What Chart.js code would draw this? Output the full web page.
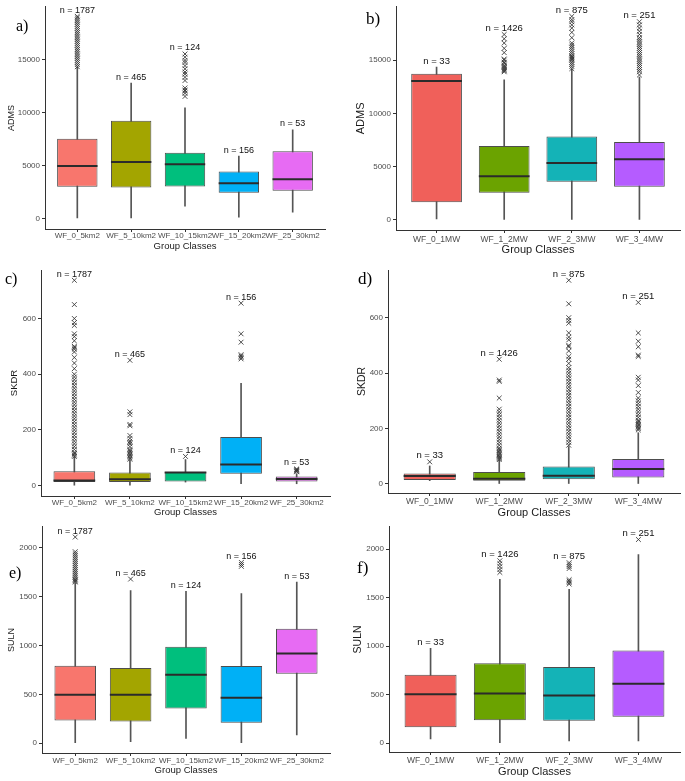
<!DOCTYPE html>
<html>
<head>
<meta charset="utf-8">
<script src="https://cdn.jsdelivr.net/npm/chart.js@4.4.1/dist/chart.umd.min.js"></script>
<style>
    body { margin: 0; background: #fff; }
    #fig { position: relative; width: 685px; height: 781px; overflow: hidden; }
    .panel { position: absolute; }
    .tag { position: absolute; font-family: 'Liberation Serif', 'Times New Roman', serif; font-size: 16px; line-height: 16px; color: #000; }
</style>
</head>
<body>
<div id="fig">
    <div class="panel" style="left:0;top:0;width:340px;height:260px"><canvas id="chartA"></canvas></div>
    <div class="panel" style="left:340px;top:0;width:345px;height:260px"><canvas id="chartB"></canvas></div>
    <div class="panel" style="left:0;top:260px;width:340px;height:260px"><canvas id="chartC"></canvas></div>
    <div class="panel" style="left:340px;top:260px;width:345px;height:260px"><canvas id="chartD"></canvas></div>
    <div class="panel" style="left:0;top:520px;width:340px;height:261px"><canvas id="chartE"></canvas></div>
    <div class="panel" style="left:340px;top:520px;width:345px;height:261px"><canvas id="chartF"></canvas></div>
    <div class="tag" style="left:16px;top:18px">a)</div>
    <div class="tag" style="left:366px;top:11px;font-size:17px">b)</div>
    <div class="tag" style="left:5px;top:271px">c)</div>
    <div class="tag" style="left:358px;top:271px;font-size:17px">d)</div>
    <div class="tag" style="left:9px;top:565px">e)</div>
    <div class="tag" style="left:357px;top:560px;font-size:17px">f)</div>
</div>
<script>
const areaClasses = ['WF_0_5km2', 'WF_5_10km2', 'WF_10_15km2', 'WF_15_20km2', 'WF_25_30km2'];
const powerClasses = ['WF_0_1MW', 'WF_1_2MW', 'WF_2_3MW', 'WF_3_4MW'];
const areaCounts = [1787, 465, 124, 156, 53];
const powerCounts = [33, 1426, 875, 251];
const areaColors = ['#F8766D', '#A3A500', '#00BF7D', '#00B0F6', '#E76BF3'];
const powerColors = ['#F0605A', '#6BA300', '#14B3B7', '#B55CFF'];

// a) ADMS by area class
const admsAreaLow = [0, 0, 1150, 120, 590];
const admsAreaQ1 = [2980, 2920, 3010, 2420, 2610];
const admsAreaMed = [4940, 5310, 5095, 3325, 3700];
const admsAreaQ3 = [7520, 9195, 6180, 4410, 6335];
const admsAreaHigh = [14250, 12760, 10435, 5870, 8360];
const admsAreaOut = [
    [14300, 14500, 14700, 14900, 15100, 15300, 15500, 15700, 15900, 16100, 16300, 16500, 16700, 16900, 17100, 17300, 17500, 17700, 17900, 18100, 18300, 18500, 18700, 18900, 19050],
    [],
    [11500, 11800, 12000, 12100, 12300, 13000, 13300, 13600, 13800, 14100, 14400, 14700, 14900, 15200, 15500],
    [],
    []
];
const admsTicks = [0, 5000, 10000, 15000];

// b) ADMS by power class
const admsPowerLow = [100, 0, 0, 0];
const admsPowerQ1 = [1650, 2545, 3570, 3105];
const admsPowerMed = [13045, 4100, 5340, 5685];
const admsPowerQ3 = [13725, 6925, 7825, 7300];
const admsPowerHigh = [14350, 13140, 14130, 13415];
const admsPowerOut = [
    [],
    [13900, 14000, 14100, 14200, 14300, 14400, 14500, 14700, 14800, 15000, 15100, 15700, 16100, 16600, 17000, 17400],
    [14200, 14400, 14600, 14800, 15000, 15100, 15200, 15300, 15400, 15600, 15800, 16000, 16200, 16400, 16600, 17100, 17600, 18000, 18300, 18600, 18800, 19100],
    [13600, 13900, 14100, 14300, 14500, 14700, 14900, 15100, 15300, 15500, 15700, 15900, 16100, 16300, 16500, 16700, 16900, 17100, 17400, 17700, 18000, 18300, 18600]
];

// c) SKDR by area class
const skdrAreaLow = [0, 0, 13, 7, 7];
const skdrAreaQ1 = [13, 13, 15, 43, 15];
const skdrAreaMed = [19, 23, 47, 76, 24];
const skdrAreaQ3 = [52, 47, 49, 175, 33];
const skdrAreaHigh = [103, 91, 94, 367, 43];
const skdrAreaOut = [
    [105, 110, 115, 120, 130, 140, 150, 160, 170, 180, 190, 200, 210, 220, 230, 240, 250, 260, 270, 280, 290, 300, 310, 320, 330, 340, 350, 360, 370, 380, 390, 400, 420, 440, 460, 480, 490, 495, 500, 520, 535, 545, 575, 585, 600, 650, 737],
    [95, 100, 105, 110, 115, 120, 125, 130, 140, 150, 155, 160, 170, 180, 215, 220, 255, 265, 450],
    [105],
    [455, 460, 465, 470, 515, 545, 655],
    [50, 52, 55, 58, 60]
];
const skdrTicks = [0, 200, 400, 600];

// d) SKDR by power class
const skdrPowerLow = [12, 0, 0, 0];
const skdrPowerQ1 = [14, 12, 17, 23];
const skdrPowerMed = [29, 19, 30, 54];
const skdrPowerQ3 = [38, 43, 63, 90];
const skdrPowerHigh = [65, 86, 135, 185];
const skdrPowerOut = [
    [80],
    [88, 92, 96, 100, 105, 110, 115, 120, 125, 130, 140, 150, 160, 170, 180, 190, 200, 210, 220, 230, 240, 250, 260, 270, 310, 370, 375, 450],
    [140, 150, 160, 170, 180, 190, 200, 210, 220, 230, 240, 250, 260, 270, 280, 290, 300, 310, 320, 330, 340, 350, 360, 370, 380, 390, 400, 410, 420, 435, 450, 460, 480, 495, 500, 520, 530, 545, 580, 590, 600, 650, 735],
    [195, 200, 205, 210, 215, 220, 225, 230, 240, 250, 260, 270, 280, 290, 300, 310, 330, 355, 375, 385, 460, 465, 495, 515, 545, 655]
];

// e) SULN by area class
const sulnAreaLow = [6, 16, 50, 6, 84];
const sulnAreaQ1 = [233, 223, 355, 209, 710];
const sulnAreaMed = [497, 497, 700, 466, 919];
const sulnAreaQ3 = [794, 770, 987, 791, 1172];
const sulnAreaHigh = [1640, 1562, 1555, 1531, 1649];
const sulnAreaOut = [
    [1650, 1660, 1670, 1680, 1700, 1720, 1740, 1760, 1780, 1800, 1820, 1840, 1860, 1880, 1900, 1920, 1940, 1960, 2110],
    [1680],
    [],
    [1810, 1830, 1850],
    []
];
const sulnTicks = [0, 500, 1000, 1500, 2000];

// f) SULN by power class
const sulnPowerLow = [44, 6, 23, 23];
const sulnPowerQ1 = [164, 238, 231, 272];
const sulnPowerMed = [505, 512, 491, 614];
const sulnPowerQ3 = [706, 825, 785, 955];
const sulnPowerHigh = [979, 1690, 1587, 1945];
const sulnPowerOut = [
    [],
    [1760, 1790, 1820, 1850, 1880],
    [1640, 1655, 1670, 1685, 1800, 1820, 1840, 1860],
    [2099]
];

const family = '"Liberation Sans", Arial, sans-serif';

function boxPlot(id, p) {
    const pos = p.labels.map((l, i) => i + 1);
    const outPts = [];
    p.out.forEach((vals, i) => vals.forEach(v => outPts.push({x: i + 1, y: v})));

    const halfBox = (ctx) => {
        const x = ctx.chart.scales.x;
        return x ? Math.abs(x.getPixelForValue(1) - x.getPixelForValue(0)) * 0.375 : 0;
    };

    // "n = ..." above the highest mark of each group
    const countLabels = {
        id: 'countLabels',
        afterDatasetsDraw(chart) {
            const c = chart.ctx, x = chart.scales.x, y = chart.scales.y;
            c.save();
            c.font = p.nFont + 'px ' + family;
            c.fillStyle = '#111';
            c.textAlign = 'center';
            c.textBaseline = 'middle';
            p.n.forEach((n, i) => {
                const top = Math.max(p.high[i], ...p.out[i]);
                c.fillText('n = ' + n, x.getPixelForValue(i + 1), y.getPixelForValue(top) - 6);
            });
            c.restore();
        }
    };

    new Chart(document.getElementById(id), {
        type: 'bar',
        data: {
            datasets: [
                {
                    data: pos.map((x, i) => ({x: x, y: [p.low[i], p.high[i]]})),
                    backgroundColor: '#555',
                    barThickness: 1,
                    grouped: false,
                    order: 3
                },
                {
                    data: pos.map((x, i) => ({x: x, y: [p.q1[i], p.q3[i]]})),
                    backgroundColor: p.colors,
                    borderColor: '#4d4d4d',
                    borderWidth: 1,
                    borderSkipped: false,
                    grouped: false,
                    barPercentage: 0.75,
                    categoryPercentage: 1,
                    order: 2
                },
                {
                    type: 'line',
                    data: pos.map((x, i) => ({x: x, y: p.med[i]})),
                    showLine: false,
                    pointStyle: 'line',
                    pointRadius: halfBox,
                    pointBorderColor: '#2b2b2b',
                    pointBorderWidth: 2,
                    order: 1
                },
                {
                    type: 'line',
                    data: outPts,
                    showLine: false,
                    pointStyle: 'crossRot',
                    pointRadius: 3.4,
                    pointBorderColor: 'rgba(50,50,50,0.85)',
                    pointBackgroundColor: 'transparent',
                    pointBorderWidth: 1,
                    order: 0
                }
            ]
        },
        options: {
            responsive: true,
            maintainAspectRatio: false,
            animation: false,
            layout: {padding: {left: 0, top: p.top, right: p.right, bottom: 0}},
            plugins: {legend: {display: false}, tooltip: {enabled: false}},
            scales: {
                x: {
                    type: 'linear',
                    min: 0.4,
                    max: p.labels.length + 0.6,
                    offset: false,
                    afterBuildTicks: s => { s.ticks = pos.map(v => ({value: v})); },
                    afterFit: s => { s.height = p.xH; },
                    ticks: {
                        autoSkip: false, maxRotation: 0, minRotation: 0,
                        padding: p.xPad, color: '#4d4d4d',
                        font: {size: p.xTickFont, family: family, lineHeight: 1},
                        callback: v => p.labels[v - 1]
                    },
                    grid: {display: true, drawOnChartArea: false, drawTicks: true, tickLength: 3, color: '#333', offset: false},
                    border: {display: true, color: '#333', width: 1},
                    title: {
                        display: true, text: 'Group Classes', color: '#1a1a1a',
                        font: {size: p.xTitleFont, family: family},
                        padding: {top: 0, bottom: p.xTitlePad}
                    }
                },
                y: {
                    min: p.yMin,
                    max: p.yMax,
                    afterBuildTicks: s => { s.ticks = p.yTicks.map(v => ({value: v})); },
                    afterFit: s => { s.width = p.yW; },
                    ticks: {
                        padding: 2, color: '#4d4d4d',
                        font: {size: 8, family: family},
                        callback: v => String(v)
                    },
                    grid: {display: true, drawOnChartArea: false, drawTicks: true, tickLength: 3, color: '#333'},
                    border: {display: true, color: '#333', width: 1},
                    title: {
                        display: true, text: p.yTitle, color: '#1a1a1a',
                        font: {size: p.yTitleFont, family: family},
                        padding: {top: p.yTitlePad, bottom: 0}
                    }
                }
            }
        },
        plugins: [countLabels]
    });
}

boxPlot('chartA', {
    labels: areaClasses, n: areaCounts, colors: areaColors,
    low: admsAreaLow, q1: admsAreaQ1, med: admsAreaMed, q3: admsAreaQ3, high: admsAreaHigh, out: admsAreaOut,
    yMin: -1000, yMax: 19950, yTicks: admsTicks, yTitle: 'ADMS',
    top: 4, right: 15, yW: 45, xH: 31, xPad: 0, xTickFont: 8, xTitleFont: 9.5, xTitlePad: 8,
    yTitleFont: 9, yTitlePad: 6.5, nFont: 9
});

boxPlot('chartB', {
    labels: powerClasses, n: powerCounts, colors: powerColors,
    low: admsPowerLow, q1: admsPowerQ1, med: admsPowerMed, q3: admsPowerQ3, high: admsPowerHigh, out: admsPowerOut,
    yMin: -950, yMax: 20000, yTicks: admsTicks, yTitle: 'ADMS',
    top: 5, right: 0, yW: 56, xH: 30, xPad: 2, xTickFont: 8.5, xTitleFont: 11, xTitlePad: 3.5,
    yTitleFont: 11, yTitlePad: 14, nFont: 9.5
});

boxPlot('chartC', {
    labels: areaClasses, n: areaCounts, colors: areaColors,
    low: skdrAreaLow, q1: skdrAreaQ1, med: skdrAreaMed, q3: skdrAreaQ3, high: skdrAreaHigh, out: skdrAreaOut,
    yMin: -37, yMax: 774, yTicks: skdrTicks, yTitle: 'SKDR',
    top: 10, right: 10, yW: 41, xH: 24, xPad: 0, xTickFont: 8, xTitleFont: 9.5, xTitlePad: 2,
    yTitleFont: 9.5, yTitlePad: 9, nFont: 9
});

boxPlot('chartD', {
    labels: powerClasses, n: powerCounts, colors: powerColors,
    low: skdrPowerLow, q1: skdrPowerQ1, med: skdrPowerMed, q3: skdrPowerQ3, high: skdrPowerHigh, out: skdrPowerOut,
    yMin: -32.5, yMax: 772, yTicks: skdrTicks, yTitle: 'SKDR',
    top: 10, right: 0, yW: 48, xH: 27, xPad: 1.5, xTickFont: 8.5, xTitleFont: 11, xTitlePad: 0,
    yTitleFont: 10.5, yTitlePad: 15.5, nFont: 9.5
});

boxPlot('chartE', {
    labels: areaClasses, n: areaCounts, colors: areaColors,
    low: sulnAreaLow, q1: sulnAreaQ1, med: sulnAreaMed, q3: sulnAreaQ3, high: sulnAreaHigh, out: sulnAreaOut,
    yMin: -100, yMax: 2215, yTicks: sulnTicks, yTitle: 'SULN',
    top: 5, right: 10, yW: 42, xH: 28, xPad: 0.5, xTickFont: 8, xTitleFont: 9.5, xTitlePad: 5,
    yTitleFont: 9, yTitlePad: 6, nFont: 9
});

boxPlot('chartF', {
    labels: powerClasses, n: powerCounts, colors: powerColors,
    low: sulnPowerLow, q1: sulnPowerQ1, med: sulnPowerMed, q3: sulnPowerQ3, high: sulnPowerHigh, out: sulnPowerOut,
    yMin: -90, yMax: 2230, yTicks: sulnTicks, yTitle: 'SULN',
    top: 5, right: 0, yW: 49, xH: 29, xPad: 1, xTickFont: 8.5, xTitleFont: 11, xTitlePad: 2.5,
    yTitleFont: 10.5, yTitlePad: 11.5, nFont: 9.5
});
</script>
</body>
</html>
